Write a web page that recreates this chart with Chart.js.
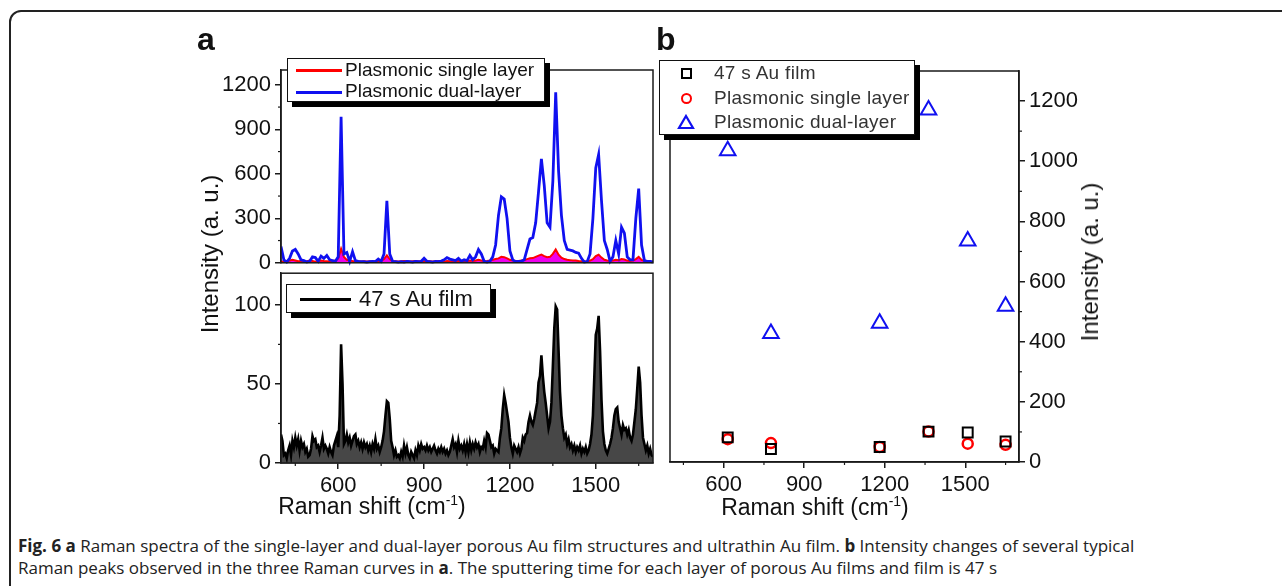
<!DOCTYPE html>
<html>
<head>
<meta charset="utf-8">
<script src="https://cdn.jsdelivr.net/npm/chart.js@4.4.1/dist/chart.umd.min.js"></script>
<style>
  body { margin: 0; width: 1282px; height: 586px; overflow: hidden; background: #fff; position: relative;
         font-family: "Liberation Sans", Arial, sans-serif; color: #111; }
  .frame { position: absolute; left: 9px; top: 10px; width: 1300px; height: 620px; border: 2px solid #222; border-radius: 12px; }
  canvas { position: absolute; }
  .panel { position: absolute; font-weight: bold; font-size: 32px; line-height: 32px; }
  .title { position: absolute; font-size: 23px; white-space: nowrap; transform: translate(-50%, -50%); }
  .title.rot { transform: translate(-50%, -50%) rotate(-90deg); font-size: 24px; }
  .title sup { font-size: 14px; vertical-align: 9px; line-height: 0; }
  .legend { position: absolute; background: #fff; border: 1.5px solid #111; box-shadow: 5px 5px 0 #000; }
  .legend .row { position: absolute; white-space: nowrap; }
  .legend .line { position: absolute; height: 3px; }
  .caption { position: absolute; left: 18px; font-family: "Open Sans", sans-serif; font-size: 17px; line-height: 22px;
             white-space: nowrap; color: #222; }
</style>
</head>
<body>
<div class="frame"></div>

<canvas id="chartTopA" width="470" height="240" style="left:200px;top:40px"></canvas>
<canvas id="chartBottomA" width="470" height="250" style="left:200px;top:256px"></canvas>
<canvas id="chartB" width="480" height="470" style="left:640px;top:40px"></canvas>

<div class="panel" style="left:197px;top:23px">a</div>
<div class="panel" style="left:656px;top:23px">b</div>

<div class="title rot" style="left:210px;top:254px">Intensity (a. u.)</div>
<div class="title rot" style="left:1090px;top:262px">Intensity (a. u.)</div>
<div class="title" style="left:372px;top:506px">Raman shift (cm<sup>-1</sup>)</div>
<div class="title" style="left:815px;top:507px">Raman shift (cm<sup>-1</sup>)</div>

<div class="legend" style="left:287px;top:58px;width:256px;height:42px">
  <div class="line" style="left:8px;top:10px;width:46px;background:#ff0000"></div>
  <div class="row" style="left:57px;top:1px;font-size:19px;line-height:20px">Plasmonic single layer</div>
  <div class="line" style="left:8px;top:32px;width:46px;background:#1010f0"></div>
  <div class="row" style="left:57px;top:22px;font-size:19px;line-height:20px">Plasmonic dual-layer</div>
</div>

<div class="legend" style="left:286px;top:284px;width:203px;height:27px">
  <div class="line" style="left:13px;top:13px;width:51px;background:#000"></div>
  <div class="row" style="left:72px;top:2px;font-size:22px;line-height:24px">47 s Au film</div>
</div>

<div class="legend" style="left:659px;top:60px;width:254px;height:73px">
  <div style="position:absolute;left:21px;top:7px;width:7px;height:7px;border:2px solid #000"></div>
  <div class="row" style="left:54px;top:2px;font-size:19px;line-height:20px;color:#333;letter-spacing:0.3px">47 s Au film</div>
  <div style="position:absolute;left:21px;top:32px;width:7px;height:7px;border:2.5px solid #ff0000;border-radius:50%"></div>
  <div class="row" style="left:54px;top:27px;font-size:19px;line-height:20px;color:#333;letter-spacing:0.3px">Plasmonic single layer</div>
  <svg style="position:absolute;left:17px;top:53px" width="18" height="16"><polygon points="9,2 16,14 2,14" fill="none" stroke="#1010f0" stroke-width="2.2"/></svg>
  <div class="row" style="left:54px;top:51px;font-size:19px;line-height:20px;color:#333;letter-spacing:0.3px">Plasmonic dual-layer</div>
</div>

<div class="caption" style="top:535px"><b>Fig. 6 a</b> Raman spectra of the single-layer and dual-layer porous Au film structures and ultrathin Au film. <b>b</b> Intensity changes of several typical</div>
<div class="caption" style="top:557px">Raman peaks observed in the three Raman curves in <b>a</b>. The sputtering time for each layer of porous Au films and film is 47 s</div>

<script>
// Raman shift grid (cm-1) of the two plasmonic spectra
const ramanShift = [
  400, 410, 420, 430, 440, 450, 460, 470, 480, 490, 500, 510, 520, 530, 540, 550, 560, 570, 580, 590,
  600, 610, 620, 630, 640, 650, 660, 670, 680, 690, 700, 710, 720, 730, 740, 750, 760, 770, 780, 790,
  800, 810, 820, 830, 840, 850, 860, 870, 880, 890, 900, 910, 920, 930, 940, 950, 960, 970, 980, 990,
  1000, 1010, 1020, 1030, 1040, 1050, 1060, 1070, 1080, 1090, 1100, 1110, 1120, 1130, 1140, 1150, 1160, 1170, 1180, 1190,
  1200, 1210, 1220, 1230, 1240, 1250, 1260, 1270, 1280, 1290, 1300, 1310, 1320, 1330, 1340, 1350, 1360, 1370, 1380, 1390,
  1400, 1410, 1420, 1430, 1440, 1450, 1460, 1470, 1480, 1490, 1500, 1510, 1520, 1530, 1540, 1550, 1560, 1570, 1580, 1590,
  1600, 1610, 1620, 1630, 1640, 1650, 1660, 1670, 1680, 1690, 1700
];

// Plasmonic dual-layer (blue)
const dualLayer = [
  110, 20, 5, 30, 80, 90, 60, 20, 15, 5, 10, 40, 35, 10, 45, 30, 50, 20, 15, 10,
  40, 985, 60, 70, 10, 75, 15, 10, 8, 8, 5, 8, 10, 8, 25, 10, 60, 418, 60, 10,
  8, 5, 8, 5, 10, 8, 5, 10, 8, 10, 30, 10, 8, 5, 10, 8, 12, 20, 35, 25,
  20, 15, 30, 10, 20, 15, 50, 20, 40, 90, 60, 10, 5, 10, 40, 120, 320, 445, 430, 300,
  80, 20, 8, 10, 10, 20, 90, 160, 170, 270, 480, 700, 520, 270, 240, 550, 1149, 620, 320, 150,
  90, 85, 80, 70, 65, 30, 5, 8, 60, 300, 640, 730, 420, 150, 90, 10, 40, 150, 60, 240,
  200, 40, 20, 20, 300, 500, 120, 15, 10, 10, 5
];

// Plasmonic single layer (red)
const singleLayer = [
  10, 5, 8, 15, 20, 15, 10, 12, 8, 10, 15, 12, 8, 10, 15, 12, 10, 8, 12, 15,
  30, 95, 40, 20, 15, 12, 10, 10, 8, 10, 8, 10, 8, 10, 8, 12, 25, 50, 25, 12,
  10, 8, 10, 12, 10, 8, 10, 12, 10, 8, 10, 12, 10, 8, 10, 12, 10, 8, 12, 10,
  8, 10, 12, 10, 12, 10, 15, 12, 15, 20, 15, 10, 12, 15, 20, 25, 30, 40, 38, 30,
  20, 15, 12, 12, 15, 18, 25, 30, 32, 40, 48, 55, 45, 38, 40, 60, 90, 55, 35, 25,
  20, 18, 15, 15, 12, 10, 8, 10, 15, 25, 45, 55, 35, 20, 15, 12, 15, 20, 18, 25,
  22, 15, 12, 15, 25, 40, 20, 12, 10, 8, 5
];

// Raman shift grid (cm-1) of the 47 s Au film spectrum
const filmShift = [
  400, 405, 410, 415, 420, 425, 430, 435, 440, 445, 450, 455, 460, 465, 470, 475, 480, 485, 490, 495,
  500, 505, 510, 515, 520, 525, 530, 535, 540, 545, 550, 555, 560, 565, 570, 575, 580, 585, 590, 595,
  600, 605, 610, 615, 620, 625, 630, 635, 640, 645, 650, 655, 660, 665, 670, 675, 680, 685, 690, 695,
  700, 705, 710, 715, 720, 725, 730, 735, 740, 745, 750, 755, 760, 765, 770, 775, 780, 785, 790, 795,
  800, 805, 810, 815, 820, 825, 830, 835, 840, 845, 850, 855, 860, 865, 870, 875, 880, 885, 890, 895,
  900, 905, 910, 915, 920, 925, 930, 935, 940, 945, 950, 955, 960, 965, 970, 975, 980, 985, 990, 995,
  1000, 1005, 1010, 1015, 1020, 1025, 1030, 1035, 1040, 1045, 1050, 1055, 1060, 1065, 1070, 1075, 1080, 1085, 1090, 1095,
  1100, 1105, 1110, 1115, 1120, 1125, 1130, 1135, 1140, 1145, 1150, 1155, 1160, 1165, 1170, 1175, 1180, 1185, 1190, 1195,
  1200, 1205, 1210, 1215, 1220, 1225, 1230, 1235, 1240, 1245, 1250, 1255, 1260, 1265, 1270, 1275, 1280, 1285, 1290, 1295,
  1300, 1305, 1310, 1315, 1320, 1325, 1330, 1335, 1340, 1345, 1350, 1355, 1360, 1365, 1370, 1375, 1380, 1385, 1390, 1395,
  1400, 1405, 1410, 1415, 1420, 1425, 1430, 1435, 1440, 1445, 1450, 1455, 1460, 1465, 1470, 1475, 1480, 1485, 1490, 1495,
  1500, 1505, 1510, 1515, 1520, 1525, 1530, 1535, 1540, 1545, 1550, 1555, 1560, 1565, 1570, 1575, 1580, 1585, 1590, 1595,
  1600, 1605, 1610, 1615, 1620, 1625, 1630, 1635, 1640, 1645, 1650, 1655, 1660, 1665, 1670, 1675, 1680, 1685, 1690, 1695,
  1700
];

// 47 s Au film (black)
const auFilm = [
  18, 14, 5, 6, 3, 8, 11, 5, 14, 10, 16, 11, 15, 8, 14, 10, 12, 7, 9, 4,
  5, 9, 17, 14, 15, 10, 11, 7, 11, 16, 9, 11, 9, 6, 10, 7, 5, 11, 14, 17,
  10, 30, 75, 50, 12, 14, 18, 13, 16, 11, 14, 17, 18, 12, 14, 10, 13, 9, 13, 10,
  12, 8, 11, 7, 12, 9, 15, 9, 11, 7, 10, 14, 20, 30, 39, 38, 28, 14, 10, 5,
  8, 4, 5, 3, 7, 4, 11, 6, 10, 5, 3, 7, 5, 3, 8, 5, 11, 8, 12, 9,
  10, 8, 11, 8, 10, 7, 9, 11, 8, 6, 9, 7, 10, 7, 9, 6, 8, 5, 7, 11,
  15, 10, 12, 7, 14, 9, 11, 8, 12, 7, 12, 7, 13, 8, 12, 9, 13, 10, 12, 7,
  10, 9, 14, 10, 19, 18, 14, 10, 11, 6, 9, 8, 7, 16, 22, 34, 43, 38, 32, 26,
  16, 10, 6, 11, 9, 7, 10, 6, 9, 16, 14, 18, 19, 26, 30, 26, 24, 28, 33, 38,
  51, 55, 68, 55, 45, 38, 30, 22, 26, 38, 61, 85, 99, 97, 71, 45, 30, 22, 16, 18,
  12, 15, 10, 12, 8, 11, 7, 10, 8, 11, 6, 9, 7, 10, 6, 8, 12, 18, 30, 55,
  81, 85, 93, 71, 40, 20, 12, 8, 6, 9, 12, 16, 22, 30, 34, 35, 26, 22, 18, 24,
  21, 22, 18, 21, 16, 14, 18, 26, 34, 47, 61, 51, 30, 16, 12, 8, 11, 6, 9, 5,
  4
];

// Panel b: intensities of the typical peaks
const peakShift = [615, 776, 1181, 1363, 1509, 1650];
const peakAuFilm = [82, 43, 50, 101, 98, 68];
const peakSingle = [76, 63, 50, 101, 61, 57];
const peakDual = [1035, 427, 461, 1170, 735, 518];

// Tick values
const shiftTicks = [600, 900, 1200, 1500];
const shiftMinor = [450, 750, 1050, 1350, 1650];
const topTicks = [0, 300, 600, 900, 1200];
const topMinor = [150, 450, 750, 1050];
const filmTicks = [0, 50, 100];
const filmMinor = [25, 75];
const peakTicks = [0, 200, 400, 600, 800, 1000, 1200];
const peakMinor = [100, 300, 500, 700, 900, 1100];

const ink = '#1a1a1a';
Chart.defaults.font.family = '"Liberation Sans", Arial, sans-serif';
Chart.defaults.color = '#111';

function pairs(xs, ys) {
  return xs.map((x, i) => ({ x: x, y: ys[i] }));
}

// plot box around the chart area
const frameBox = {
  id: 'frameBox',
  afterDraw(chart) {
    const a = chart.chartArea, c = chart.ctx;
    c.save();
    c.strokeStyle = ink;
    c.lineWidth = 1.5;
    c.strokeRect(a.left, a.top, a.right - a.left, a.bottom - a.top);
    c.restore();
  }
};

// short minor ticks, drawn outside the chart area
function minorTicks(map) {
  return {
    id: 'minorTicks',
    afterDraw(chart) {
      const a = chart.chartArea, c = chart.ctx;
      c.save();
      c.strokeStyle = ink;
      c.lineWidth = 1.2;
      Object.keys(map).forEach(id => {
        const s = chart.scales[id];
        map[id].forEach(v => {
          const p = s.getPixelForValue(v);
          c.beginPath();
          if (s.position === 'bottom') { c.moveTo(p, a.bottom); c.lineTo(p, a.bottom + 3); }
          else if (s.position === 'left') { c.moveTo(a.left - 3, p); c.lineTo(a.left, p); }
          else { c.moveTo(a.right, p); c.lineTo(a.right + 3, p); }
          c.stroke();
        });
      });
      c.restore();
    }
  };
}

function axis(values, extra) {
  return Object.assign({
    type: 'linear',
    afterBuildTicks: s => { s.ticks = values.map(v => ({ value: v })); },
    grid: { drawOnChartArea: false, tickLength: 6, color: ink, lineWidth: 1.5 },
    border: { color: ink, width: 1.5 },
    ticks: { autoSkip: false, maxRotation: 0, padding: 4, color: '#111', font: { size: 22 }, callback: v => String(v) }
  }, extra);
}

const baseOptions = {
  responsive: false,
  animation: false,
  devicePixelRatio: 1,
  plugins: { legend: { display: false }, tooltip: { enabled: false } }
};

// Panel a, top: plasmonic spectra
new Chart(document.getElementById('chartTopA'), {
  type: 'line',
  data: {
    datasets: [
      { data: pairs(ramanShift, dualLayer), borderColor: '#1010f0', borderWidth: 2.8, pointRadius: 0, fill: false, clip: { left: 0, top: 0, right: 0, bottom: 3 } },
      { data: pairs(ramanShift, singleLayer), borderColor: '#ff0000', borderWidth: 2, backgroundColor: '#ee00ee', pointRadius: 0, fill: 'origin', clip: { left: 0, top: 0, right: 0, bottom: 3 } }
    ]
  },
  options: Object.assign({}, baseOptions, {
    layout: { padding: { top: 30, right: 17, bottom: 14, left: 0 } },
    scales: {
      x: { type: 'linear', min: 400, max: 1700, display: false },
      y: axis(topTicks, { min: 0, max: 1300, afterFit: s => { s.width = 81; } })
    }
  }),
  plugins: [frameBox, minorTicks({ y: topMinor })]
});

// Panel a, bottom: 47 s Au film
new Chart(document.getElementById('chartBottomA'), {
  type: 'line',
  data: {
    datasets: [
      { data: pairs(filmShift, auFilm), borderColor: '#000', borderWidth: 2.6, backgroundColor: '#474747', pointRadius: 0, fill: 'origin' }
    ]
  },
  options: Object.assign({}, baseOptions, {
    layout: { padding: { top: 10, right: 17, bottom: 0, left: 0 } },
    scales: {
      x: axis(shiftTicks, { min: 400, max: 1700, afterFit: s => { s.height = 43; } }),
      y: axis(filmTicks, { min: 0, max: 120, afterFit: s => { s.width = 81; } })
    }
  }),
  plugins: [frameBox, minorTicks({ x: shiftMinor, y: filmMinor })]
});

// Panel b: peak intensities
new Chart(document.getElementById('chartB'), {
  type: 'scatter',
  data: {
    datasets: [
      { data: pairs(peakShift, peakAuFilm), pointStyle: 'rect', pointRadius: 7, borderColor: '#000', borderWidth: 2, backgroundColor: 'rgba(0,0,0,0)' },
      { data: pairs(peakShift, peakSingle), pointStyle: 'circle', pointRadius: 5, borderColor: '#ff0000', borderWidth: 2.5, backgroundColor: 'rgba(0,0,0,0)' },
      { data: pairs(peakShift, peakDual), pointStyle: 'triangle', pointRadius: 9, borderColor: '#1010f0', borderWidth: 2, backgroundColor: 'rgba(0,0,0,0)' }
    ]
  },
  options: Object.assign({}, baseOptions, {
    layout: { padding: { top: 31, right: 0, bottom: 0, left: 30 } },
    scales: {
      x: axis(shiftTicks, { min: 400, max: 1700, afterFit: s => { s.height = 48; } }),
      y: axis(peakTicks, { position: 'right', min: 0, max: 1300, afterFit: s => { s.width = 101; } })
    }
  }),
  plugins: [frameBox, minorTicks({ x: shiftMinor, y: peakMinor })]
});
</script>
</body>
</html>
